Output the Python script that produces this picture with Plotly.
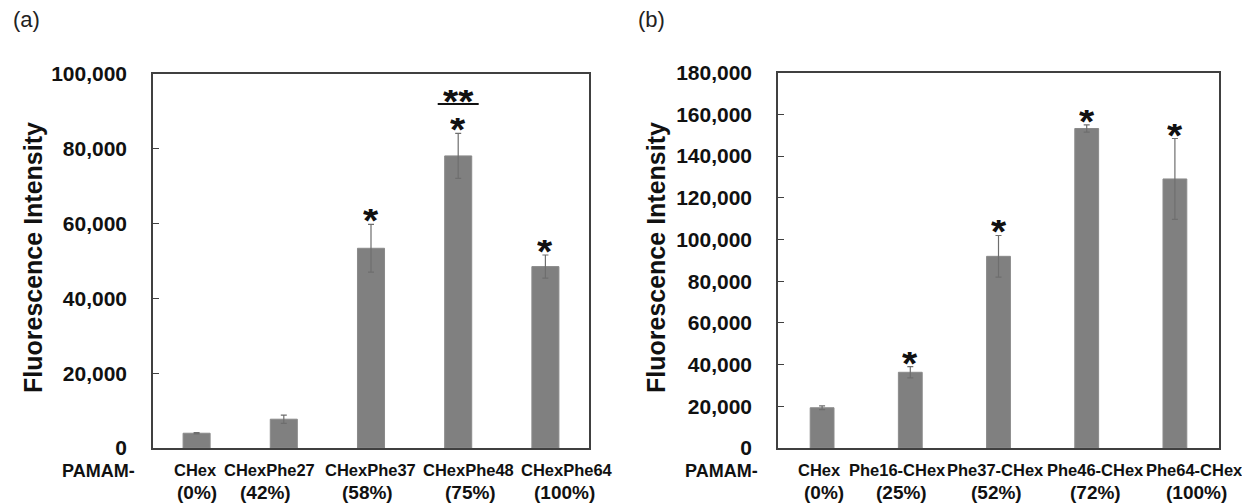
import plotly.graph_objects as go

# ---------------- data ----------------
cats_a = ["CHex", "CHexPhe27", "CHexPhe37", "CHexPhe48", "CHexPhe64"]
pct_a = ["(0%)", "(42%)", "(58%)", "(75%)", "(100%)"]
vals_a = [3950, 7700, 53400, 78100, 48500]
errs_a = [150, 1100, 6400, 6000, 3100]
star_a = [False, False, True, True, True]

cats_b = ["CHex", "Phe16-CHex", "Phe37-CHex", "Phe46-CHex", "Phe64-CHex"]
pct_b = ["(0%)", "(25%)", "(52%)", "(72%)", "(100%)"]
vals_b = [19300, 36300, 91900, 153200, 129000]
errs_b = [900, 2700, 10000, 1700, 19400]
star_b = [False, True, True, True, True]

yticks_a = [0, 20000, 40000, 60000, 80000, 100000]
yticks_b = [0, 20000, 40000, 60000, 80000, 100000, 120000, 140000, 160000, 180000]

W, H = 1242, 503
FONT = "Liberation Sans, Arial, sans-serif"
BAR = "#808080"
AX = "#404040"
TXT = "#111111"


def px_x(p):
    return p / W


def px_y(p):
    return 1 - p / H


fig = go.Figure()
fig.add_trace(go.Bar(
    x=cats_a, y=vals_a, xaxis="x", yaxis="y", width=0.31,
    marker=dict(color=BAR, line=dict(color="#8a8a8a", width=1)),
    error_y=dict(type="data", array=errs_a, visible=True, color="#6e6e6e", thickness=1.2, width=3),
    showlegend=False, hoverinfo="skip"))
fig.add_trace(go.Bar(
    x=cats_b, y=vals_b, xaxis="x2", yaxis="y2", width=0.27,
    marker=dict(color=BAR, line=dict(color="#8a8a8a", width=1)),
    error_y=dict(type="data", array=errs_b, visible=True, color="#6e6e6e", thickness=1.2, width=3),
    showlegend=False, hoverinfo="skip"))

xa_common = dict(type="category", showline=True, linecolor=AX, linewidth=1.5, mirror=True,
                 ticks="", showgrid=False, zeroline=False, showticklabels=False,
                 automargin=False, range=[-0.5, 4.5], autorange=False)
ya_common = dict(showline=True, linecolor=AX, linewidth=1.5, mirror=True,
                 ticks="inside", ticklen=6, tickcolor=AX, tickwidth=1.2,
                 showgrid=False, zeroline=False, automargin=False,
                 tickfont=dict(family=FONT, size=21, color=TXT),
                 ticklabelstandoff=20, tickmode="array")

fig.update_layout(
    width=W, height=H, margin=dict(l=0, r=0, t=0, b=0, autoexpand=False),
    paper_bgcolor="white", plot_bgcolor="white",
    font=dict(family=FONT, color=TXT),
    xaxis=dict(domain=[px_x(153), px_x(589)], anchor="y", categoryarray=cats_a,
               categoryorder="array", **xa_common),
    yaxis=dict(domain=[px_y(448), px_y(74)], anchor="x", range=[0, 100000],
               tickvals=yticks_a, ticktext=[f"<b>{v:,}</b>" for v in yticks_a], **ya_common),
    xaxis2=dict(domain=[px_x(778), px_x(1219)], anchor="y2", categoryarray=cats_b,
                categoryorder="array", **xa_common),
    yaxis2=dict(domain=[px_y(448), px_y(72.6)], anchor="x2", range=[0, 180000],
                tickvals=yticks_b, ticktext=[f"<b>{v:,}</b>" for v in yticks_b], **ya_common),
)

ann = []
STAR_FONT = dict(family=FONT, size=39, color=TXT)
# stars above error bars
for xr, yr, cats, vals, errs, stars in (("x", "y", cats_a, vals_a, errs_a, star_a),
                                          ("x2", "y2", cats_b, vals_b, errs_b, star_b)):
    for c, v, e, s in zip(cats, vals, errs, stars):
        if s:
            ann.append(dict(x=c, y=v + e, xref=xr, yref=yr, text="<b>*</b>", showarrow=False,
                            yanchor="middle", yshift=4, height=22, valign="middle",
                            font=STAR_FONT))

# significance marker over CHexPhe48
sig_cat = cats_a[3]
sig_idx = 3
sig_line_y = 92000
ann.append(dict(x=sig_cat, y=sig_line_y, xref="x", yref="y", text="<b>**</b>", showarrow=False,
                yanchor="middle", yshift=3, height=22, valign="middle", font=STAR_FONT))
fig.add_shape(type="line", xref="x", yref="y", x0=sig_idx - 0.235, x1=sig_idx + 0.235,
              y0=sig_line_y, y1=sig_line_y, line=dict(color=TXT, width=2))

# category labels (two lines, laid out like a spaced text row under each panel)
for xr, cats, pcts, s1, s2 in (("x", cats_a, pct_a, [-1, -14, -1, 10, 22], [0, -18, -4, 12, 19]),
                               ("x2", cats_b, pct_b, [-3, -13, -3, 9, 20], [2, -9, -2, 9, 22])):
    for c, p, a1, a2 in zip(cats, pcts, s1, s2):
        ann.append(dict(x=c, y=px_y(470), xref=xr, yref="paper", text=f"<b>{c}</b>",
                        showarrow=False, xanchor="center", yanchor="middle", xshift=a1,
                        font=dict(family=FONT, size=16.5, color=TXT)))
        ann.append(dict(x=c, y=px_y(492), xref=xr, yref="paper", text=f"<b>{p}</b>",
                        showarrow=False, xanchor="center", yanchor="middle", xshift=a2,
                        font=dict(family=FONT, size=19, color=TXT)))

# panel labels and titles
ann.append(dict(x=px_x(11), y=px_y(20), xref="paper", yref="paper", text="(a)", showarrow=False,
                xanchor="left", yanchor="middle", font=dict(family=FONT, size=22, color="#222")))
ann.append(dict(x=px_x(636), y=px_y(20), xref="paper", yref="paper", text="(b)", showarrow=False,
                xanchor="left", yanchor="middle", font=dict(family=FONT, size=22, color="#222")))
for xc in (33, 656):
    ann.append(dict(x=px_x(xc), y=px_y(258), xref="paper", yref="paper",
                    text="<b>Fluorescence Intensity</b>", showarrow=False, textangle=-90,
                    xanchor="center", yanchor="middle", font=dict(family=FONT, size=25, color=TXT)))
for xr in (137, 760):
    ann.append(dict(x=px_x(xr), y=px_y(471), xref="paper", yref="paper",
                    text="<b>PAMAM-</b>", showarrow=False,
                    xanchor="right", yanchor="middle", font=dict(family=FONT, size=18, color=TXT)))

fig.update_layout(annotations=ann)
fig.write_html("out.html")
